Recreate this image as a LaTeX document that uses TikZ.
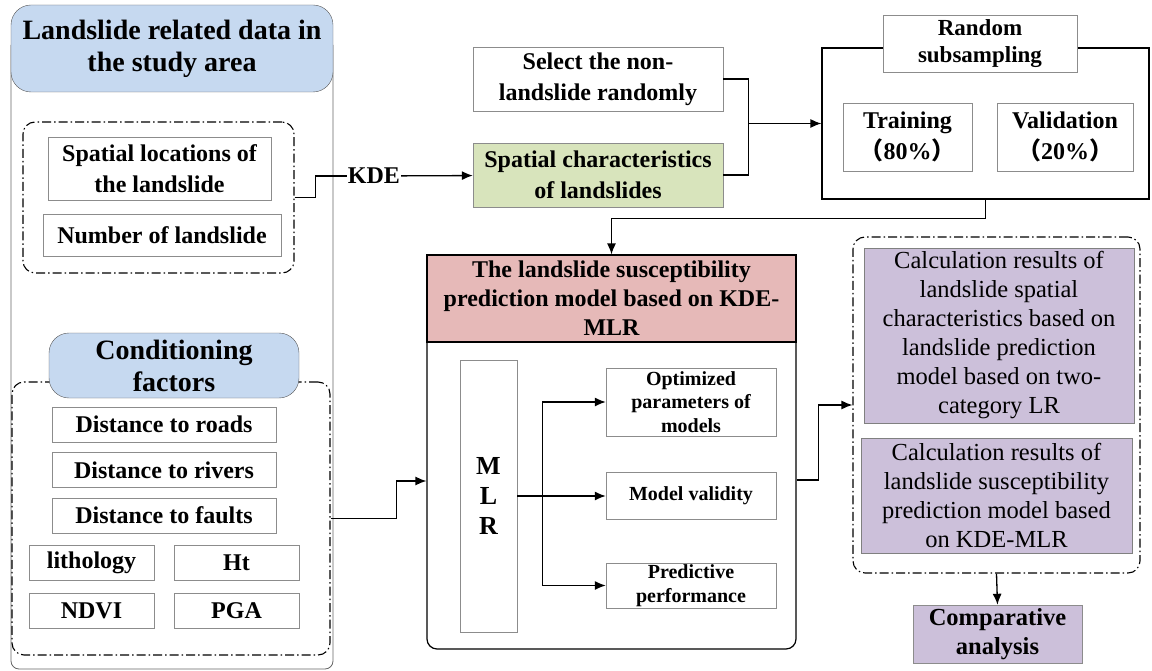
\documentclass[tikz,border=0pt]{standalone}
\usepackage{fontspec}
\setmainfont{Liberation Serif}
\newfontfamily\cjk{Noto Sans CJK SC}
\usepackage{tikz}
\usetikzlibrary{arrows.meta,positioning,calc}
\definecolor{HeadBlue}{HTML}{C6D9F0}
\definecolor{SoftGreen}{HTML}{D8E4BC}
\definecolor{Rose}{HTML}{E6B9B8}
\definecolor{Lilac}{HTML}{CCC0DA}

\begin{document}
\begin{tikzpicture}[x=1pt,y=-1pt,>={Latex[length=11pt,width=9pt]},
 header/.style={rounded corners=20pt,draw=black!65,fill=HeadBlue,align=center,
                inner sep=1pt,font=\bfseries\fontsize{28}{32}\selectfont},
 item/.style={draw=black!45,fill=white,align=center,inner sep=1pt,
              font=\bfseries\fontsize{24}{31}\selectfont},
 small/.style={item,inner sep=0pt,font=\bfseries\fontsize{20}{23.5}\selectfont},
 group/.style={draw,rounded corners=12pt,line width=1.1pt,
               dash pattern=on 9pt off 3pt on 1.5pt off 3pt},
 result/.style={draw=black!50,fill=Lilac,align=center,inner sep=0pt,
                font=\fontsize{24.5}{29}\selectfont},
 link/.style={line width=1.3pt}]
\useasboundingbox (0,0) rectangle (1152,671);
% left column
\draw[black!60,line width=0.8pt,rounded corners=8pt] (11,45) -- (11,669) -- (333,669) -- (333,45);
\node[header,minimum width=322,minimum height=87] (data) at (172,48.5) {Landslide related data in\\the study area};
\node[group,minimum width=271,minimum height=151] (grp1) at (158.5,197.5) {};
\node[item,minimum width=223,minimum height=63] (locs) at (159.5,168.5) {Spatial locations of\\the landslide};
\node[item,minimum width=238,minimum height=42] (numb) at (162,235) {Number of landslide};
\node[group,minimum width=318,minimum height=273] (grp2) at (171,518.5) {};
\node[header,minimum width=250,minimum height=65] (cond) at (174,365.5) {Conditioning\\factors};
\node[item,minimum width=224,minimum height=35] (roads) at (164,424.5) {Distance to roads};
\node[item,minimum width=224,minimum height=35] (rivers) at (164,470) {Distance to rivers};
\node[item,minimum width=224,minimum height=35] (faults) at (164,515.5) {Distance to faults};
\node[item,minimum width=125,minimum height=35] (litho) at (91.5,562.5) {lithology};
\node[item,minimum width=125,minimum height=35] (ht) at (236.5,562.5) {Ht};
\node[item,minimum width=125,minimum height=35] (ndvi) at (91.5,610.5) {NDVI};
\node[item,minimum width=125,minimum height=35] (pga) at (236.5,610.5) {PGA};
% sampling
\node[font=\bfseries\fontsize{24}{28}\selectfont,inner sep=1pt] (kde) at (374,176) {KDE};
\node[item,minimum width=250,minimum height=64] (select) at (598,79) {Select the non-\\landslide randomly};
\node[item,fill=SoftGreen,minimum width=250,minimum height=64] (spat) at (598,175) {Spatial characteristics\\of landslides};
\node[draw,line width=1.2pt,minimum width=327,minimum height=151] (rand) at (985.5,123.5) {};
\node[item,minimum width=194,minimum height=57,font=\bfseries\fontsize{23}{27}\selectfont] (randhead) at (980,43.5) {Random\\subsampling};
\node[item,minimum width=129,minimum height=68] (train) at (907.5,137) {Training\\{\cjk （}80\%{\cjk ）}};
\node[item,minimum width=136,minimum height=68] (valid) at (1065,137) {Validation\\{\cjk （}20\%{\cjk ）}};
% model
\node[draw,line width=1.2pt,rounded corners=10pt,minimum width=369,minimum height=394] (model) at (611.5,452) {};
\node[item,draw=black,line width=1.2pt,fill=Rose,minimum width=369,minimum height=87,
      font=\bfseries\fontsize{24}{29}\selectfont] (mhead) at (611.5,298.5) {The landslide susceptibility\\prediction model based on KDE-\\MLR};
\node[item,minimum width=57,minimum height=272,font=\bfseries\fontsize{26}{30}\selectfont] (mlr) at (488.5,496) {M\\L\\R};
\node[small,minimum width=170,minimum height=68] (opt) at (691,402) {Optimized\\parameters of\\models};
\node[small,minimum width=170,minimum height=47] (validity) at (691,496) {Model validity};
\node[small,minimum width=170,minimum height=45] (pred) at (691,585.5) {Predictive\\performance};
% results
\node[group,minimum width=287,minimum height=336] (grp3) at (996.5,405) {};
\node[result,minimum width=270,minimum height=175] (res1) at (999,335.5) {Calculation results of\\landslide spatial\\characteristics based on\\landslide prediction\\model based on two-\\category LR};
\node[result,minimum width=271,minimum height=115] (res2) at (996.5,495.5) {Calculation results of\\landslide susceptibility\\prediction model based\\on KDE-MLR};
\node[item,fill=Lilac,minimum width=169,minimum height=58,
      font=\bfseries\fontsize{24.5}{29}\selectfont] (comp) at (997.5,634) {Comparative\\analysis};
% connectors
\draw[link] (grp1.east) -- ++(21,0) |- (kde.west);
\draw[->,link] (kde) -- (spat);
\draw[link] (select.east) -- ++(25,0) coordinate (j1) |- (spat.east);
\draw[->,link] (j1 |- rand.west) -- (rand.west);
\draw[->,link] (rand.south) -- ++(0,19) -| (mhead.north);
\draw[->,link] (grp2.east) -- ++(66,0) |- ($(model.west)+(0,29)$);
\draw[link] (mlr.east) -- ++(25,0) coordinate (br);
\draw[->,link] (br) |- (opt.west);
\draw[->,link] (br) -- (validity.west);
\draw[->,link] (br) |- (pred.west);
\draw[->,link] ($(model.east)+(0,28)$) -- ++(22,0) |- (grp3.west);
\draw[->,link] (grp3.south) -- (comp.north);
\end{tikzpicture}
\end{document}
